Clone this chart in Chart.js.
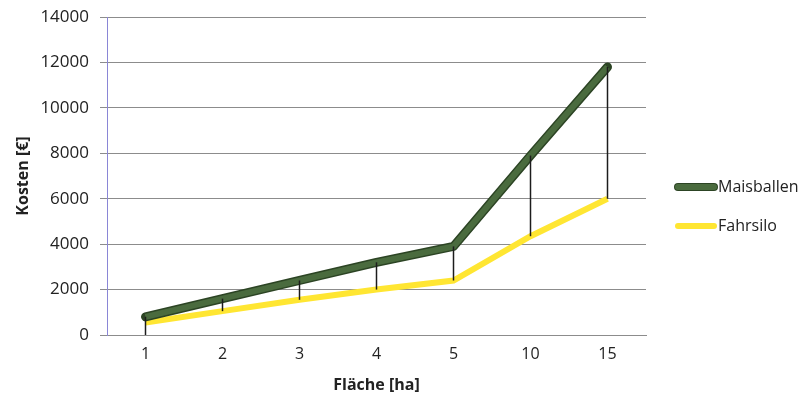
<!DOCTYPE html>
<html>
<head>
<meta charset="utf-8">
<script src="https://cdn.jsdelivr.net/npm/chart.js@4.4.0/dist/chart.umd.min.js"></script>
<style>
  html, body { margin: 0; padding: 0; background: #fff; }
  #wrap { width: 805px; height: 401px; }
</style>
</head>
<body>
<div id="wrap"><canvas id="mycan" width="805" height="401"></canvas></div>
<script>
var flaeche = ['1', '2', '3', '4', '5', '10', '15'];
var maisballen = [800, 1600, 2400, 3200, 3900, 7900, 11800];
var fahrsilo = [550, 1050, 1550, 2000, 2400, 4350, 6000];
var yTicks = [0, 2000, 4000, 6000, 8000, 10000, 12000, 14000];

var fontName = "'Open Sans', sans-serif";

// Excel-style high-low lines between the two series
var hiLoLines = {
  id: 'hiLoLines',
  afterDatasetsDraw: function(chart) {
    var ctx = chart.ctx;
    var a = chart.getDatasetMeta(0).data;
    var b = chart.getDatasetMeta(1).data;
    var yScale = chart.scales.y;
    ctx.save();
    ctx.strokeStyle = '#1c1c1c';
    ctx.lineWidth = 1.5;
    for (var i = 0; i < a.length; i++) {
      var low = b[i].y;
      if (i === 0) low = yScale.getPixelForValue(0);
      ctx.beginPath();
      ctx.moveTo(a[i].x, a[i].y);
      ctx.lineTo(a[i].x, low);
      ctx.stroke();
    }
    ctx.restore();
  }
};

// darker rim under the green line
var greenRim = {
  id: 'greenRim',
  beforeDatasetDraw: function(chart, args) {
    if (args.index !== 0) return;
    var pts = chart.getDatasetMeta(0).data;
    var ctx = chart.ctx;
    ctx.save();
    ctx.strokeStyle = '#2c4424';
    ctx.lineWidth = 9;
    ctx.lineJoin = 'round';
    ctx.lineCap = 'round';
    ctx.beginPath();
    for (var i = 0; i < pts.length; i++) {
      if (i === 0) ctx.moveTo(pts[i].x, pts[i].y);
      else ctx.lineTo(pts[i].x, pts[i].y);
    }
    ctx.stroke();
    ctx.restore();
  }
};

// legend on the right, drawn by hand
var sideLegend = {
  id: 'sideLegend',
  afterDraw: function(chart) {
    var ctx = chart.ctx;
    var sets = chart.data.datasets;
    var ys = [187, 226];
    ctx.save();
    ctx.font = '16px ' + fontName;
    ctx.textBaseline = 'middle';
    for (var i = 0; i < sets.length; i++) {
      if (i === 0) {
        ctx.strokeStyle = '#2c4424';
        ctx.lineWidth = 8;
        ctx.lineCap = 'round';
        ctx.beginPath();
        ctx.moveTo(678, ys[i]);
        ctx.lineTo(714, ys[i]);
        ctx.stroke();
      }
      ctx.strokeStyle = sets[i].borderColor;
      ctx.lineWidth = 6;
      ctx.lineCap = 'round';
      ctx.beginPath();
      ctx.moveTo(678, ys[i]);
      ctx.lineTo(714, ys[i]);
      ctx.stroke();
      ctx.fillStyle = '#222';
      ctx.fillText(sets[i].label, 718, ys[i]);
    }
    ctx.restore();
  }
};

var chartdata = {
  labels: flaeche,
  datasets: [
    {
      label: 'Maisballen',
      data: maisballen,
      borderColor: '#4a6b3e',
      backgroundColor: '#4a6b3e',
      borderWidth: 6,
      pointRadius: 0,
      tension: 0,
      order: 1
    },
    {
      label: 'Fahrsilo',
      data: fahrsilo,
      borderColor: '#ffe632',
      backgroundColor: '#ffe632',
      borderWidth: 6,
      pointRadius: 0,
      tension: 0,
      order: 2
    }
  ]
};

var ctx = document.getElementById('mycan');
var linegraph = new Chart(ctx, {
  type: 'line',
  data: chartdata,
  plugins: [greenRim, hiLoLines, sideLegend],
  options: {
    responsive: false,
    animation: false,
    layout: { padding: { left: 0, right: 159, top: 17, bottom: 0 } },
    plugins: {
      legend: { display: false },
      tooltip: { enabled: false }
    },
    scales: {
      x: {
        offset: true,
        grid: { display: false, drawTicks: false },
        border: { display: true, color: '#8c8c8c', width: 1 },
        ticks: { color: '#222', font: { family: fontName, size: 16 }, padding: 10 },
        title: {
          display: true,
          text: 'Fläche [ha]',
          color: '#222',
          font: { family: fontName, size: 16, weight: 'bold' },
          padding: { top: 4, bottom: 6 }
        },
        afterFit: function(scale) { scale.height = 66; }
      },
      y: {
        min: 0,
        max: 14000,
        afterBuildTicks: function(scale) {
          scale.ticks = yTicks.map(function(v) { return { value: v }; });
        },
        grid: { color: '#8c8c8c', lineWidth: 1, tickLength: 7 },
        border: { display: true, color: '#8a86d6', width: 1 },
        ticks: {
          color: '#222',
          font: { family: fontName, size: 17 },
          padding: 11,
          callback: function(v) { return String(v); }
        },
        title: {
          display: true,
          text: 'Kosten [€]',
          color: '#222',
          font: { family: fontName, size: 16, weight: 'bold' },
          padding: { top: 14, bottom: 4 }
        },
        afterFit: function(scale) {
          scale.width = 107;
          scale.paddingTop = 0;
          scale.paddingBottom = 0;
        }
      }
    }
  }
});
</script>
</body>
</html>
